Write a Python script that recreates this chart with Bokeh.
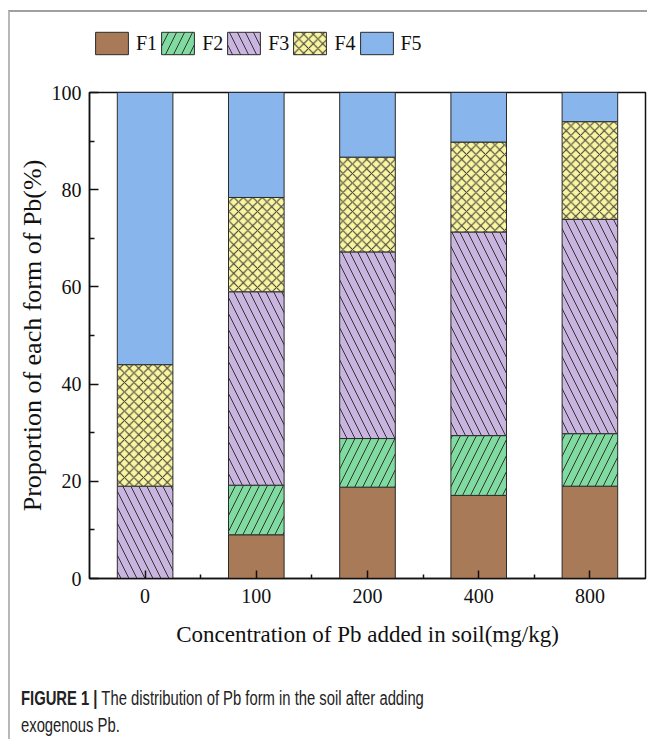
from bokeh.plotting import figure
from bokeh.models import (Range1d, FixedTicker, Legend, LegendItem, Div,
                          ColumnDataSource)
from bokeh.layouts import column
from bokeh.embed import file_html
from bokeh.resources import INLINE

# Pb added to soil (mg/kg) and the share of each Pb form (%)
doses = ["0", "100", "200", "400", "800"]
forms = ["F1", "F2", "F3", "F4", "F5"]
f1 = [0.0, 9.0, 18.8, 17.1, 19.0]
f2 = [0.0, 10.2, 10.0, 12.3, 10.8]
f3 = [19.0, 39.8, 38.4, 41.9, 44.1]
f4 = [25.0, 19.4, 19.5, 18.5, 20.1]
f5 = [56.0, 21.6, 13.3, 10.2, 6.0]
y_ticks = [0, 20, 40, 60, 80, 100]

colors = ["#a87a58", "#80dba0", "#c9b5e0", "#faf5a0", "#88b5ec"]
hatches = [None, "/", "\\", "x", None]
hatch_scales = [None, 16, 16, 9.5, None]

serif = "Liberation Serif"

pos = list(range(len(doses)))
src = ColumnDataSource(dict(x=pos, F1=f1, F2=f2, F3=f3, F4=f4, F5=f5))


def style_stack(renderers):
    for r, h, s in zip(renderers, hatches, hatch_scales):
        if h:
            r.glyph.hatch_pattern = h
            r.glyph.hatch_color = "#333333"
            r.glyph.hatch_scale = s
            r.glyph.hatch_weight = 1


stack_kw = dict(x="x", width=0.5, source=src, fill_color=colors,
                line_color="#2b2b2b", line_width=1)

# --- legend strip above the chart ---
lf = figure(width=637, height=66, min_border=0, output_backend="svg",
            toolbar_location=None, x_axis_location=None,
            y_axis_location=None, x_range=Range1d(0, 1),
            y_range=Range1d(0, 1))
lf.grid.visible = False
lf.outline_line_color = None
key = lf.vbar_stack(forms, **stack_kw)
style_stack(key)
for r in key:
    r.visible = False
legend = Legend(items=[LegendItem(label=f, renderers=[r])
                       for f, r in zip(forms, key)],
                orientation="horizontal", location=(2, 21),
                glyph_width=41, glyph_height=28, label_standoff=4,
                spacing=0, padding=0, margin=0,
                border_line_alpha=0, background_fill_alpha=0,
                inactive_fill_alpha=0,
                label_text_font=serif, label_text_font_size="20px",
                label_text_color="#111111")
lf.add_layout(legend, "center")

# --- stacked bar chart ---
p = figure(frame_width=556, frame_height=486, width=637, height=576,
           min_border_left=79, min_border_right=2, min_border_top=14,
           min_border_bottom=76, output_backend="svg", toolbar_location=None,
           x_range=Range1d(-0.5, len(doses) - 0.5), y_range=Range1d(0, 100))

bars = p.vbar_stack(forms, **stack_kw)
style_stack(bars)

p.xgrid.visible = False
p.ygrid.visible = False
p.outline_line_color = "#111111"
p.outline_line_width = 1.5

xa = p.xaxis[0]
xa.ticker = FixedTicker(ticks=pos, minor_ticks=[i + 0.5 for i in pos[:-1]])
xa.major_label_overrides = {i: d for i, d in zip(pos, doses)}
xa.axis_label = "Concentration of Pb added in soil(mg/kg)"

ya = p.yaxis[0]
ya.ticker = FixedTicker(ticks=y_ticks,
                        minor_ticks=[t + 10 for t in y_ticks[:-1]])
ya.axis_label = "Proportion of each form of Pb(%)"

for ax in (xa, ya):
    ax.axis_line_color = "#111111"
    ax.axis_line_width = 1.5
    ax.major_tick_line_color = "#111111"
    ax.minor_tick_line_color = "#111111"
    ax.major_tick_line_width = 1.5
    ax.minor_tick_line_width = 1.5
    ax.major_tick_out = 0
    ax.minor_tick_out = 0
    ax.major_label_text_font = serif
    ax.major_label_text_font_size = "20px"
    ax.major_label_text_color = "#111111"
    ax.axis_label_text_font = serif
    ax.axis_label_text_font_style = "normal"
    ax.axis_label_text_color = "#111111"

xa.major_tick_in = 8
xa.minor_tick_in = 4
xa.major_label_standoff = 10
xa.axis_label_text_font_size = "23px"
xa.axis_label_standoff = 16

ya.major_tick_in = 9
ya.minor_tick_in = 5
ya.major_label_standoff = 8
ya.axis_label_text_font_size = "26px"
ya.axis_label_standoff = 2

caption = Div(
    text=("<b>FIGURE 1 |</b> The distribution of Pb form in the soil after "
          "adding<br>exogenous Pb."),
    width=620, height=81,
    styles={"font-family": "'Liberation Sans', Arial, sans-serif",
            "font-size": "20px", "line-height": "27px", "color": "#222222",
            "margin-left": "11px", "padding-top": "26px",
            "white-space": "nowrap",
            "transform": "scaleX(0.74)", "transform-origin": "left top"})

page = column(lf, p, caption, margin=(10, 0, 0, 8), spacing=0,
              styles={"border-left": "2px solid #b8b8b8",
                      "border-top": "2px solid #a0a0a0"})

open("out.html", "w").write(file_html(page, INLINE))
